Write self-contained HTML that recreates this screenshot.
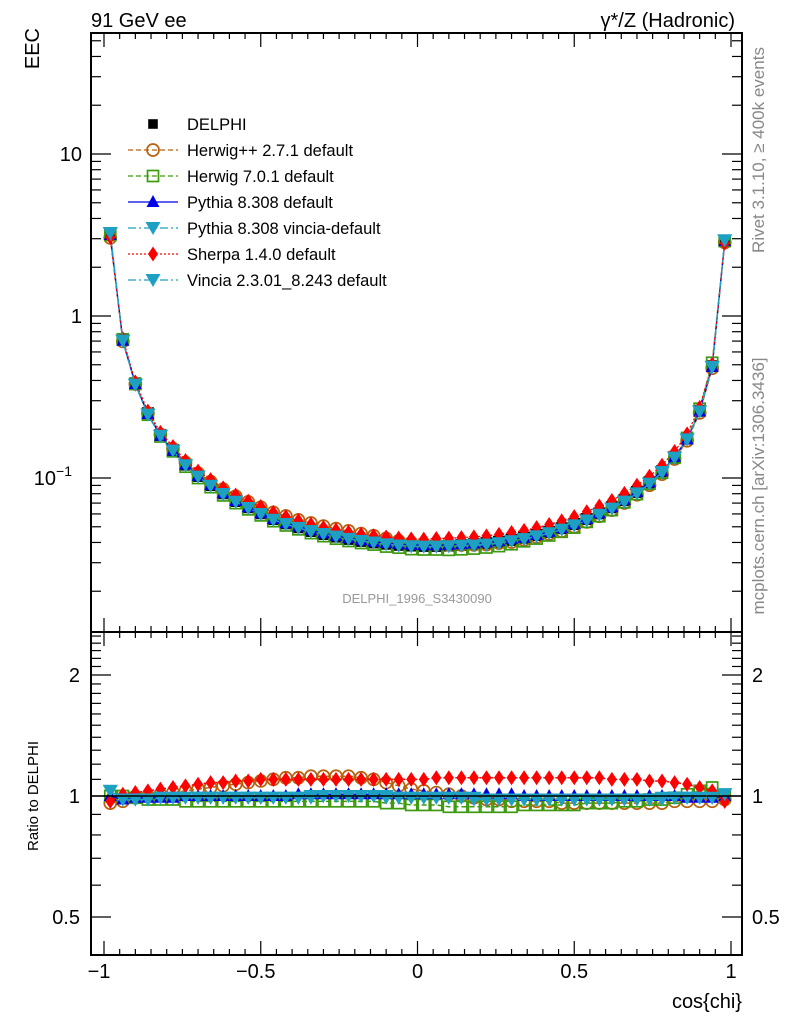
<!DOCTYPE html>
<html><head><meta charset="utf-8"><style>
html,body{margin:0;padding:0;background:#fff;}
svg{display:block;font-family:"Liberation Sans",sans-serif;}
</style></head><body>
<svg id="c" width="786" height="1024" viewBox="0 0 786 1024" xmlns="http://www.w3.org/2000/svg">
<rect width="786" height="1024" fill="#fff"/>
<g id="band"></g><g id="series"></g><g id="axes"></g>
<text x="91" y="27" font-size="20">91 GeV ee</text>
<text x="735" y="27" font-size="20" text-anchor="end">γ*/Z (Hadronic)</text>
<text transform="translate(39,28) rotate(-90)" font-size="20" text-anchor="end">EEC</text>
<text transform="translate(38,796) rotate(-90)" font-size="15" text-anchor="middle">Ratio to DELPHI</text>
<text x="742" y="1008" font-size="20" text-anchor="end">cos{chi}</text>
<text x="417" y="603" font-size="13" fill="#999" text-anchor="middle">DELPHI_1996_S3430090</text>
<text transform="translate(764,150) rotate(-90)" font-size="17" fill="#888" text-anchor="middle">Rivet 3.1.10, ≥ 400k events</text>
<text transform="translate(764,486) rotate(-90)" font-size="17" fill="#888" text-anchor="middle">mcplots.cern.ch [arXiv:1306.3436]</text>
<g id="legend"></g>
</svg>
<script>
const xCenters=[-0.98,-0.94,-0.90,-0.86,-0.82,-0.78,-0.74,-0.70,-0.66,-0.62,-0.58,-0.54,-0.50,-0.46,-0.42,-0.38,-0.34,-0.30,-0.26,-0.22,-0.18,-0.14,-0.10,-0.06,-0.02,0.02,0.06,0.10,0.14,0.18,0.22,0.26,0.30,0.34,0.38,0.42,0.46,0.50,0.54,0.58,0.62,0.66,0.70,0.74,0.78,0.82,0.86,0.90,0.94,0.98];
const dataEEC=[3.16,0.718,0.384,0.251,0.184,0.149,0.121,0.103,0.0905,0.0805,0.0721,0.066,0.0606,0.0558,0.0525,0.0497,0.0471,0.0451,0.0435,0.0421,0.0409,0.040,0.0393,0.0387,0.0383,0.0381,0.0381,0.0383,0.0386,0.039,0.0396,0.0404,0.0415,0.0428,0.0445,0.0465,0.049,0.052,0.0558,0.0605,0.066,0.073,0.082,0.094,0.11,0.135,0.175,0.26,0.49,2.9];
const ratioHerwigpp=[0.96,0.97,0.99,1.0,1.01,1.02,1.03,1.04,1.05,1.06,1.07,1.08,1.09,1.10,1.11,1.11,1.12,1.12,1.12,1.12,1.11,1.10,1.08,1.06,1.04,1.03,1.02,1.01,1.0,0.99,0.98,0.98,0.97,0.97,0.97,0.97,0.96,0.96,0.96,0.96,0.96,0.96,0.96,0.96,0.96,0.97,0.97,0.97,0.97,0.98];
const ratioHerwig7=[1.0,1.0,0.99,0.98,0.98,0.98,0.97,0.97,0.97,0.97,0.97,0.97,0.97,0.97,0.97,0.97,0.97,0.97,0.97,0.97,0.97,0.97,0.96,0.96,0.95,0.95,0.95,0.94,0.94,0.94,0.94,0.94,0.94,0.95,0.95,0.95,0.95,0.95,0.96,0.96,0.96,0.97,0.97,0.98,0.98,0.99,1.01,1.03,1.05,1.0];
const ratioPythia=[1.0,0.98,0.99,0.99,0.99,0.99,1.0,1.0,1.0,1.0,1.0,1.0,1.0,1.0,1.0,1.01,1.01,1.01,1.01,1.01,1.01,1.01,1.01,1.01,1.01,1.01,1.01,1.01,1.01,1.01,1.01,1.01,1.01,1.0,1.0,1.0,1.0,1.0,1.0,1.0,1.0,1.0,1.0,1.0,1.0,1.0,0.99,0.99,0.99,1.0];
const ratioPyVincia=[1.03,0.98,0.98,0.98,0.99,0.99,0.99,0.99,0.99,0.99,0.99,0.99,0.99,0.99,0.99,0.99,0.99,1.0,1.0,1.0,1.0,1.0,1.0,0.99,0.99,0.99,0.99,0.99,0.99,0.99,0.98,0.98,0.98,0.98,0.98,0.98,0.98,0.98,0.98,0.98,0.98,0.98,0.98,0.98,0.98,0.99,0.99,0.99,0.99,1.01];
const ratioSherpa=[0.97,1.01,1.02,1.03,1.04,1.05,1.06,1.07,1.08,1.08,1.09,1.09,1.10,1.10,1.10,1.10,1.10,1.10,1.10,1.10,1.10,1.10,1.10,1.10,1.10,1.10,1.11,1.11,1.11,1.11,1.11,1.11,1.11,1.11,1.11,1.11,1.11,1.11,1.11,1.11,1.10,1.10,1.10,1.09,1.09,1.08,1.07,1.05,1.03,0.97];
const ratioVincia=[1.03,0.98,0.98,0.98,0.99,0.99,0.99,0.99,0.99,0.99,0.99,0.99,0.99,0.99,0.99,0.99,1.0,1.0,1.0,1.0,1.0,1.0,0.99,0.99,0.99,0.99,0.99,0.99,0.99,0.98,0.98,0.98,0.98,0.98,0.98,0.98,0.98,0.98,0.98,0.98,0.98,0.98,0.98,0.98,0.99,0.99,0.99,0.99,0.99,1.01];
const dataRelErr=[0.015,0.015,0.015,0.015,0.015,0.015,0.015,0.015,0.015,0.015,0.015,0.015,0.015,0.015,0.015,0.015,0.015,0.015,0.015,0.015,0.015,0.015,0.015,0.015,0.015,0.015,0.015,0.015,0.015,0.015,0.015,0.015,0.015,0.015,0.015,0.015,0.015,0.015,0.015,0.015,0.015,0.015,0.015,0.015,0.015,0.015,0.015,0.015,0.015,0.015];
const legendLabels=["DELPHI","Herwig++ 2.7.1 default","Herwig 7.0.1 default","Pythia 8.308 default","Pythia 8.308 vincia-default","Sherpa 1.4.0 default","Vincia 2.3.01_8.243 default"];

const NS="http://www.w3.org/2000/svg";
const L=91,R=742,T=33,M=632,B=955;
const X=v=>417.5+313.5*v;
const Y=v=>316-162*Math.log10(v);
const YR=r=>796-121*Math.log2(r);
function mk(tag,attrs,parent){const e=document.createElementNS(NS,tag);for(const k in attrs)e.setAttribute(k,attrs[k]);parent.appendChild(e);return e;}
const axes=document.getElementById('axes'),ser=document.getElementById('series'),band=document.getElementById('band'),leg=document.getElementById('legend');

let bp=xCenters.map((x,i)=>[X(x-0.02),YR(1+dataRelErr[i])]).concat([[X(1.0),YR(1+dataRelErr[49])]]);
let bp2=xCenters.map((x,i)=>[X(x-0.02),YR(1-dataRelErr[i])]).concat([[X(1.0),YR(1-dataRelErr[49])]]).reverse();
const bandEl=mk('polygon',{points:bp.concat(bp2).map(p=>p.join(',')).join(' '),fill:'#ffff99'},band);



const f1=mk('rect',{x:L,y:T,width:R-L,height:M-T,fill:'none',stroke:'#000','stroke-width':2},axes);


const f2=mk('rect',{x:L,y:M,width:R-L,height:B-M,fill:'none',stroke:'#000','stroke-width':2},axes);


const ref=mk('line',{x1:L,x2:R,y1:YR(1),y2:YR(1),stroke:'#000','stroke-width':1.5},axes);



for(let k=-20;k<=20;k++){const v=k*0.05,x=X(v);const maj=k%10===0;const h=maj?14:6;
 [[T,1],[M,-1],[M,1],[B,-1]].forEach(([y,d])=>mk('line',{x1:x,x2:x,y1:y,y2:y+d*h,stroke:'#000','stroke-width':1.2},axes));}
const xLabels=["−1","−0.5","0","0.5","1"],xLabelVals=[-1,-0.5,0,0.5,1];
xLabelVals.forEach((v,i)=>{const t=mk('text',{x:X(v)-(v<0?5:0),y:978,'font-size':20,'text-anchor':'middle'},axes);t.textContent=xLabels[i];
 
 });

for(let e=-2;e<=1;e++)for(let m=1;m<=9;m++){const v=m*Math.pow(10,e);const y=Y(v);if(y<T||y>M)continue;const h=m===1?20:10;
 mk('line',{x1:L,x2:L+h,y1:y,y2:y,stroke:'#000','stroke-width':1.2},axes);mk('line',{x1:R,x2:R-h,y1:y,y2:y,stroke:'#000','stroke-width':1.2},axes);}
[[10,"10"],[1,"1"]].forEach(([v,s])=>{const t=mk('text',{x:82,y:Y(v)+7,'font-size':20,'text-anchor':'end'},axes);t.textContent=s;
 
 });
{const t=mk('text',{x:72,y:Y(0.1)+7,'font-size':20,'text-anchor':'end'},axes);t.textContent="10";const s=mk('tspan',{dy:-9,'font-size':14},t);s.textContent="−1";
 
 }

[0.5,0.6,0.7,0.8,0.9,1,1.1,1.2,1.3,1.4,1.5,1.6,1.7,1.8,1.9,2,2.1,2.2,2.3,2.4,2.5].forEach(v=>{const y=YR(v);const maj=(v===0.5||v===1||v===2);const h=maj?20:10;
 mk('line',{x1:L,x2:L+h,y1:y,y2:y,stroke:'#000','stroke-width':1.2},axes);mk('line',{x1:R,x2:R-h,y1:y,y2:y,stroke:'#000','stroke-width':1.2},axes);});
[[2,"2"],[1,"1"],[0.5,"0.5"]].forEach(([v,s])=>{const t=mk('text',{x:80,y:YR(v)+7,'font-size':20,'text-anchor':'end'},axes);t.textContent=s;
 
 
 const t2=mk('text',{x:752,y:YR(v)+7,'font-size':20},axes);t2.textContent=s;
 
 });

function marker(type,x,y,col,g,s){
 s=s||1;
 if(type==='sq')return mk('rect',{x:x-6*s,y:y-6*s,width:12*s,height:12*s,fill:col},g);
 if(type==='osq')return mk('rect',{x:x-5.5,y:y-5.5,width:11,height:11,fill:'none',stroke:col,'stroke-width':1.7},g);
 if(type==='oc')return mk('circle',{cx:x,cy:y,r:6,fill:'none',stroke:col,'stroke-width':1.7},g);
 if(type==='tu')return mk('polygon',{points:`${x},${y-7} ${x-6.5},${y+5} ${x+6.5},${y+5}`,fill:col},g);
 if(type==='td')return mk('polygon',{points:`${x},${y+7} ${x-7.5},${y-6} ${x+7.5},${y-6}`,fill:col},g);
 if(type==='di')return mk('polygon',{points:`${x},${y-7.5} ${x+5},${y} ${x},${y+7.5} ${x-5},${y}`,fill:col},g);
}
const series=[
 {name:'herwigpp',r:ratioHerwigpp,col:'#b8610a',m:'oc',dash:'5,3'},
 {name:'herwig7',r:ratioHerwig7,col:'#3d9a0f',m:'osq',dash:'5,3'},
 {name:'pythia',r:ratioPythia,col:'#0000e6',m:'tu',dash:''},
 {name:'pythia-vincia',r:ratioPyVincia,col:'#1ea0c3',m:'td',dash:'8,3,2,3'},
 {name:'sherpa',r:ratioSherpa,col:'#ff0000',m:'di',dash:'2,2'},
 {name:'vincia',r:ratioVincia,col:'#1ea0c3',m:'td',dash:'8,3,2,3'}
];
const gd=mk('g',{},ser);


xCenters.forEach((x,i)=>{const m=marker('sq',X(x),Y(dataEEC[i]),'#000',gd);
 
 });
series.forEach(s=>{
 const g=mk('g',{},ser);
 
 
 const pts=xCenters.map((x,i)=>X(x)+','+Y(dataEEC[i]*s.r[i])).join(' ');
 mk('polyline',{points:pts,fill:'none',stroke:s.col,'stroke-width':1.3,'stroke-dasharray':s.dash},g);
 xCenters.forEach((x,i)=>{const m=marker(s.m,X(x),Y(dataEEC[i]*s.r[i]),s.col,g);
  
  });
 const gr=mk('g',{},ser);
 
 
 const rp=xCenters.map((x,i)=>X(x)+','+YR(s.r[i])).join(' ');
 mk('polyline',{points:rp,fill:'none',stroke:s.col,'stroke-width':1.5,'stroke-dasharray':s.dash},gr);
 xCenters.forEach((x,i)=>{const m=marker(s.m,X(x),YR(s.r[i]),s.col,gr);
  
  });
});

const legStyles=[{m:'sq',col:'#000',dash:null}].concat(series);
legendLabels.forEach((lab,i)=>{
 const y=124+26*i;
 const g=mk('g',{},leg);
 
 
 const st=legStyles[i];
 if(st.dash!==null&&st.dash!==undefined)mk('line',{x1:128,x2:178,y1:y,y2:y,stroke:st.col,'stroke-width':1.3,'stroke-dasharray':st.dash},g);
 marker(st.m,153,y,st.col,g,i===0?0.8:1);
 const t=mk('text',{x:187,y:y+6,'font-size':16.5},g);t.textContent=lab;
});
</script>
</body></html>
